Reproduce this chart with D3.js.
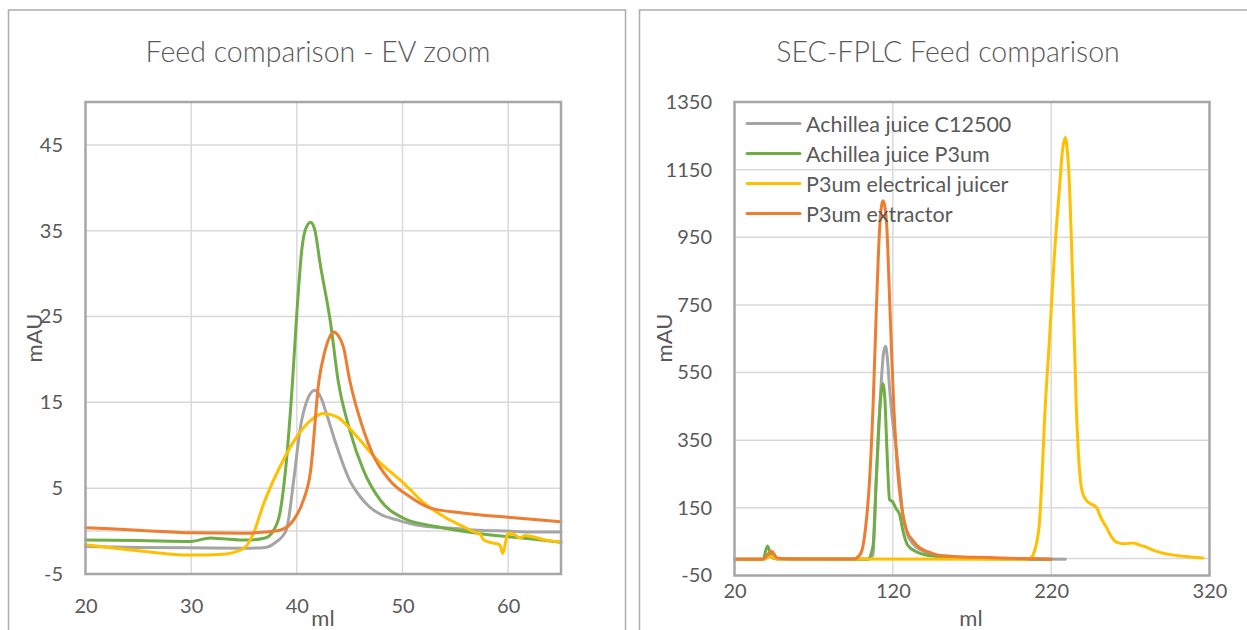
<!DOCTYPE html>
<html>
<head>
<meta charset="utf-8">
<script src="https://cdn.jsdelivr.net/npm/d3@7"></script>
<style>
  html, body { margin: 0; padding: 0; background: #fff; }
  svg { display: block; font-family: Lato, "Open Sans", sans-serif; }
</style>
</head>
<body>
<svg id="chart" width="1247" height="630"></svg>
<script>
// Series names and colours
const seriesNames = ["Achillea juice C12500", "Achillea juice P3um", "P3um electrical juicer", "P3um extractor"];
const seriesColors = ["#A5A5A5", "#70AD47", "#FFC000", "#ED7D31"];

// EV zoom panel: [ml, mAU]
const evC12500 = [[20,-1.8],[25,-1.9],[30,-1.95],[35,-2.0],[37,-1.9],[38,-1.3],[39,0.1],[39.7,5.9],[40.3,11.8],[41.1,15.6],[41.7,16.4],[42.3,15.5],[42.8,13.7],[43.8,9.8],[45,5.9],[46,4.0],[46.9,2.8],[48,1.9],[49.5,1.3],[51,0.8],[52.6,0.5],[55,0.3],[57.4,0.1],[60,0],[62,-0.1],[65,-0.1]];
const evP3um = [[20,-1.05],[25,-1.1],[30,-1.2],[31.8,-0.8],[33,-0.9],[35.3,-1.05],[37,-0.8],[37.8,0.1],[38.4,2.1],[39,8],[39.6,17.6],[40,25.4],[40.5,33.1],[40.8,35.1],[41.3,36.0],[41.7,35.1],[42.2,31.2],[43.2,24.2],[43.9,17.6],[45,11.8],[46.3,7.1],[47.9,3.6],[50.1,1.5],[53.3,0.5],[57.4,-0.3],[62.1,-0.9],[65,-1.3]];
const evJuicer = [[20,-1.6],[25,-2.3],[30,-2.8],[33,-2.7],[35,-2.0],[35.9,-0.25],[36.8,3],[38.4,7.5],[40,11],[41.3,12.9],[42.5,13.7],[43.8,13.3],[45.7,11],[47.6,8.3],[50.1,5.6],[52,3.3],[53.9,1.7],[55.8,0.5],[57,-0.2],[57.3,-0.3],[57.7,-1.05],[58.6,-1.4],[59.2,-1.6],[59.5,-2.6],[59.8,-1.0],[60,-0.25],[60.6,-0.4],[61.1,-0.8],[61.6,-0.5],[62.1,-0.6],[63.6,-1.05],[65,-1.3]];
const evExtractor = [[20,0.4],[25,0.1],[30,-0.2],[35,-0.25],[37,-0.1],[38.4,0.1],[39.7,1.3],[40.5,3.2],[41.3,7],[42.1,17.6],[42.6,20.7],[43.1,22.6],[43.5,23.2],[43.9,22.8],[44.4,21.5],[45,17.6],[46.3,11.8],[47.2,8.9],[48.8,5.9],[50.7,4.0],[52.6,2.7],[55.7,2.1],[60,1.6],[65,1.1]];

// Full SEC-FPLC run: [ml, mAU]
const fullC12500 = [[20,-2],[38,-2],[41,12],[45,0],[104,-2],[107.4,10],[109.5,231],[111.6,430],[112.8,530],[114.2,610],[115.4,628],[116.6,590],[118,500],[120,400],[122,330],[124.2,231],[126.2,133],[129,75],[132.6,44],[138,25],[145,12],[160,4],[180,0],[229,-2]];
const fullP3um = [[20,-2],[38,-2],[40.8,37],[43,12],[47,-1],[104,-2],[107.4,34],[109.5,231],[111.6,430],[113.7,517],[115,470],[115.8,379],[116.9,251],[117.9,175],[120,167],[122,148],[124.2,132],[126.5,80],[129.5,39],[135,20],[143,9],[160,2],[220,-2]];
const fullJuicer = [[20,-2],[38,-2],[43,6],[47,-1],[205,-2],[207,2],[208.4,9],[210.5,40],[212.7,113],[214.3,250],[215.8,409],[219,655],[222.1,902],[225.3,1099],[227,1200],[228.9,1245],[230.3,1200],[231.6,1099],[232.7,950],[233.7,803],[235.8,458],[237.9,261],[239.5,200],[242.2,172],[244.5,163],[248.5,152],[251.5,120],[254.8,93],[258,65],[261.1,49],[266,44],[271.6,46],[276,40],[280,34],[286,22],[292.7,14],[305,6],[315.8,2]];
const fullExtractor = [[20,-2],[38,-2],[43.3,22],[47,2],[55,-1],[95,-1],[99,10],[101,34],[103,100],[105.3,231],[107.5,450],[109.5,724],[111.6,971],[113.7,1058],[115,1040],[116.3,971],[117.7,800],[119.1,625],[120.5,460],[122,330],[124,210],[126.3,132],[129,80],[132.6,54],[137,32],[143,19],[149,10],[165,5],[180,3],[200,0],[220,-2]];

// Axis ticks
const evXTicks = [20, 30, 40, 50, 60];
const evYTicks = [-5, 5, 15, 25, 35, 45];
const fullXTicks = [20, 120, 220, 320];
const fullYTicks = [-50, 150, 350, 550, 750, 950, 1150, 1350];

const svg = d3.select("#chart");
const textColor = "#595959";
const gridColor = "#D9D9D9";
const frameColor = "#A6A6A6";
const plainNumber = d => String(d).replace("\u2212", "-");

function drawPanel(cfg) {
  const g = svg.append("g");
  // outer chart frame
  g.append("rect")
    .attr("x", cfg.frame[0]).attr("y", cfg.frame[1])
    .attr("width", cfg.frame[2]).attr("height", cfg.frame[3])
    .attr("fill", "#fff").attr("stroke", "#ADADAD").attr("stroke-width", 1.5);

  const x = d3.scaleLinear().domain(cfg.xDomain).range([cfg.plot.left, cfg.plot.right]);
  const y = d3.scaleLinear().domain(cfg.yDomain).range([cfg.plot.bottom, cfg.plot.top]);

  // gridlines
  g.append("g").selectAll("line").data(cfg.xTicks.filter(t => t > cfg.xDomain[0] && t < cfg.xDomain[1]))
    .join("line")
    .attr("x1", d => x(d)).attr("x2", d => x(d))
    .attr("y1", cfg.plot.top).attr("y2", cfg.plot.bottom)
    .attr("stroke", gridColor).attr("stroke-width", 1.5);
  g.append("g").selectAll("line").data(cfg.yTicks.filter(t => t > cfg.yDomain[0] && t < cfg.yDomain[1]).concat([0]))
    .join("line")
    .attr("x1", cfg.plot.left).attr("x2", cfg.plot.right)
    .attr("y1", d => y(d)).attr("y2", d => y(d))
    .attr("stroke", gridColor).attr("stroke-width", 1.5);

  // tick labels through d3 axes (lines hidden)
  const xAxis = g.append("g")
    .attr("transform", `translate(0,${cfg.xLabelY})`)
    .call(d3.axisBottom(x).tickValues(cfg.xTicks).tickFormat(plainNumber).tickSize(0).tickPadding(0));
  xAxis.select(".domain").remove();
  xAxis.selectAll("text").attr("font-size", 20).attr("fill", textColor)
    .attr("font-family", "Lato, sans-serif").attr("dy", "0.35em").attr("y", 0);

  const yAxis = g.append("g")
    .attr("transform", `translate(${cfg.yLabelX},0)`)
    .call(d3.axisLeft(y).tickValues(cfg.yTicks).tickFormat(plainNumber).tickSize(0).tickPadding(0));
  yAxis.select(".domain").remove();
  yAxis.selectAll("text").attr("font-size", 20).attr("fill", textColor)
    .attr("font-family", "Lato, sans-serif").attr("x", 0);

  // series
  const line = d3.line().x(d => x(d[0])).y(d => y(d[1])).curve(d3.curveMonotoneX);
  g.append("g").selectAll("path").data(cfg.series)
    .join("path")
    .attr("d", d => line(d))
    .attr("fill", "none")
    .attr("stroke", (d, i) => seriesColors[i])
    .attr("stroke-width", 3)
    .attr("stroke-linejoin", "round")
    .attr("stroke-linecap", "round");

  // plot area border
  g.append("rect")
    .attr("x", cfg.plot.left).attr("y", cfg.plot.top)
    .attr("width", cfg.plot.right - cfg.plot.left)
    .attr("height", cfg.plot.bottom - cfg.plot.top)
    .attr("fill", "none").attr("stroke", frameColor).attr("stroke-width", 2.5);

  // titles
  g.append("text").attr("x", cfg.title[1]).attr("y", cfg.title[2])
    .attr("text-anchor", "middle").attr("dominant-baseline", "central")
    .attr("font-size", 28.5).attr("font-weight", 300).attr("fill", textColor)
    .text(cfg.title[0]);
  g.append("text").attr("x", cfg.xTitle[0]).attr("y", cfg.xTitle[1])
    .attr("text-anchor", "middle").attr("dominant-baseline", "central")
    .attr("font-size", 22).attr("fill", textColor).text("ml");
  g.append("text")
    .attr("transform", `translate(${cfg.yTitle[0]},${cfg.yTitle[1]}) rotate(-90)`)
    .attr("text-anchor", "middle").attr("dominant-baseline", "central")
    .attr("font-size", 22).attr("fill", textColor).text("mAU");

  return { g, x, y };
}

drawPanel({
  frame: [8.5, 10, 617, 640],
  plot: { left: 85.5, right: 561, top: 102, bottom: 574 },
  xDomain: [20, 65], yDomain: [-5, 50],
  xTicks: evXTicks, yTicks: evYTicks,
  xLabelY: 606, yLabelX: 63,
  series: [evC12500, evP3um, evJuicer, evExtractor],
  title: ["Feed comparison - EV zoom", 318, 51],
  xTitle: [323, 617], yTitle: [33, 338]
});

const right = drawPanel({
  frame: [639.5, 10, 640, 640],
  plot: { left: 734.5, right: 1209.5, top: 102, bottom: 575.5 },
  xDomain: [20, 320], yDomain: [-50, 1350],
  xTicks: fullXTicks, yTicks: fullYTicks,
  xLabelY: 591, yLabelX: 712,
  series: [fullC12500, fullP3um, fullJuicer, fullExtractor],
  title: ["SEC-FPLC Feed comparison", 948, 51],
  xTitle: [971, 617], yTitle: [663, 338]
});

// legend inside the full-run plot
const legend = right.g.append("g");
const legendRows = legend.selectAll("g").data(seriesNames).join("g")
  .attr("transform", (d, i) => `translate(747,${123.5 + i * 30})`);
legendRows.append("line")
  .attr("x1", 0).attr("x2", 53).attr("y1", 0).attr("y2", 0)
  .attr("stroke", (d, i) => seriesColors[i]).attr("stroke-width", 3)
  .attr("stroke-linecap", "round");
legendRows.append("text")
  .attr("x", 59).attr("y", 0).attr("dominant-baseline", "central")
  .attr("font-size", 21.5).attr("fill", textColor).text(d => d);
</script>
</body>
</html>
